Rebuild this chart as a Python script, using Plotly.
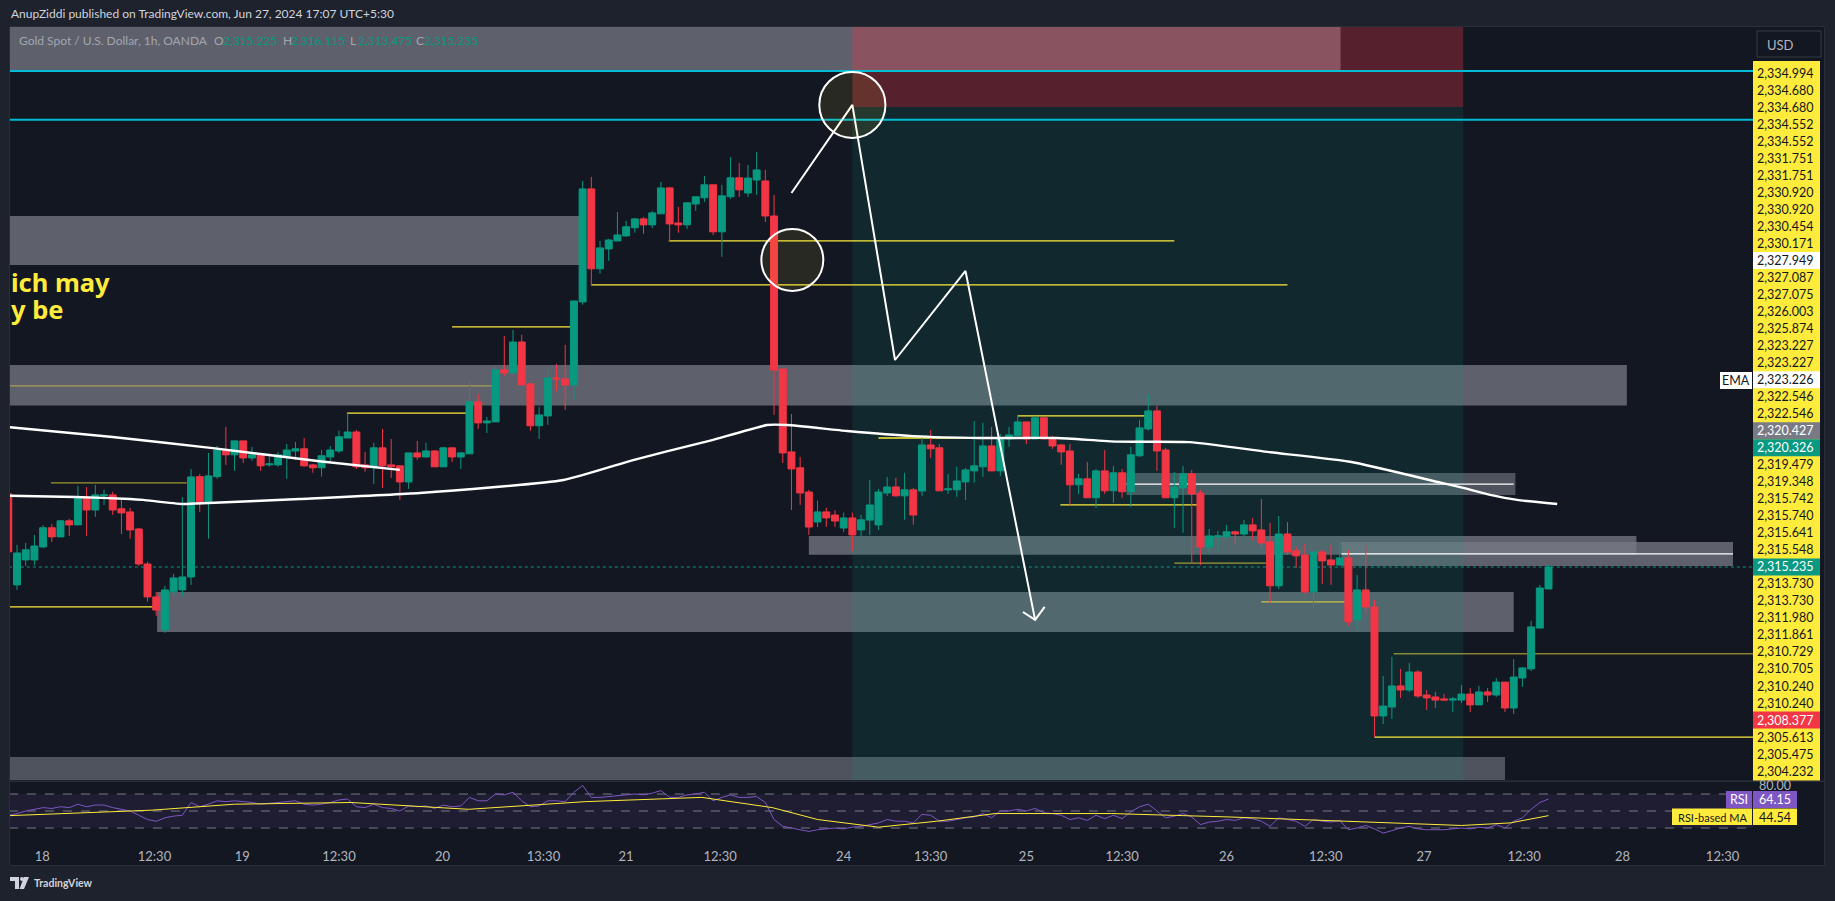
import plotly.graph_objects as go

W, H = 1835, 901
BG = '#1e222d'
PANE = '#131722'
UP = '#089981'
DOWN = '#f23645'
YELLOW = '#ffeb3b'
FONT = 'Lato'

OPEN = [
    2318.28, 2314.49, 2315.53, 2315.53, 2316.07, 2316.87, 2316.49, 2317.16, 2316.99, 2318.14,
    2317.61, 2318.20, 2318.24, 2317.66, 2317.53, 2316.82, 2315.36, 2313.99, 2312.61, 2314.20,
    2314.28, 2314.82, 2319.00, 2317.95, 2319.00, 2320.11, 2319.91, 2320.49, 2319.78, 2319.91,
    2319.49, 2319.49, 2319.87, 2320.07, 2320.16, 2319.49, 2319.37, 2319.82, 2320.07, 2320.61,
    2320.86, 2319.49, 2319.37, 2320.20, 2319.49, 2319.45, 2318.78, 2319.99, 2319.82, 2320.07,
    2319.41, 2320.20, 2319.82, 2319.95, 2322.12, 2321.24, 2321.28, 2323.45, 2323.32, 2324.61,
    2322.87, 2321.12, 2321.53, 2323.11, 2323.07, 2322.82, 2326.28, 2330.99, 2327.66, 2328.49,
    2328.82, 2329.03, 2329.37, 2329.74, 2329.49, 2329.95, 2331.03, 2329.57, 2329.49, 2330.36,
    2330.62, 2331.16, 2329.20, 2330.66, 2331.45, 2330.82, 2331.36, 2331.32, 2329.86, 2323.49,
    2320.03, 2319.37, 2318.36, 2317.11, 2317.53, 2317.40, 2316.86, 2317.28, 2316.78, 2317.19,
    2316.99, 2318.32, 2318.57, 2318.20, 2318.45, 2318.40, 2320.32, 2320.20, 2318.45, 2318.45,
    2318.78, 2319.24, 2319.41, 2320.28, 2319.24, 2320.57, 2320.70, 2321.28, 2320.57, 2321.45,
    2320.61, 2320.32, 2320.07, 2318.66, 2318.91, 2318.12, 2319.24, 2318.41, 2319.16, 2318.37,
    2319.87, 2320.99, 2321.74, 2320.11, 2318.12, 2318.53, 2319.12, 2318.32, 2316.07, 2316.49,
    2316.49, 2316.70, 2316.61, 2316.99, 2316.78, 2316.28, 2314.45, 2316.61, 2315.91, 2315.74,
    2314.20, 2315.86, 2315.53, 2315.32, 2315.61, 2313.03, 2314.28, 2313.57, 2309.03, 2309.40,
    2310.28, 2310.11, 2310.86, 2309.90, 2309.82, 2309.74, 2309.69, 2309.69, 2309.94, 2309.49,
    2310.03, 2309.90, 2310.44, 2309.36, 2310.61, 2310.99, 2312.69, 2314.32,
]
HIGH = [
    2318.35, 2316.16, 2316.24, 2316.57, 2316.98, 2317.03, 2317.20, 2317.24, 2318.62, 2318.57,
    2318.66, 2318.45, 2318.37, 2318.03, 2317.70, 2316.86, 2315.45, 2314.20, 2314.45, 2314.95,
    2318.15, 2319.32, 2319.11, 2319.99, 2320.28, 2321.07, 2320.53, 2320.49, 2320.24, 2319.91,
    2319.91, 2320.03, 2320.36, 2320.45, 2320.61, 2319.53, 2320.11, 2320.28, 2320.91, 2321.66,
    2320.95, 2320.03, 2320.41, 2320.99, 2320.57, 2319.45, 2319.99, 2320.49, 2320.41, 2320.11,
    2320.24, 2320.20, 2320.03, 2322.99, 2322.45, 2321.49, 2323.61, 2324.86, 2325.11, 2324.91,
    2322.87, 2321.91, 2323.49, 2323.70, 2324.49, 2326.32, 2331.32, 2331.49, 2328.82, 2328.91,
    2330.03, 2329.66, 2329.78, 2329.82, 2330.07, 2331.28, 2331.07, 2330.24, 2330.41, 2330.66,
    2331.53, 2331.16, 2331.16, 2332.32, 2332.07, 2331.99, 2332.53, 2331.78, 2330.74, 2323.49,
    2321.61, 2319.82, 2318.45, 2318.00, 2317.70, 2317.60, 2317.50, 2317.50, 2317.40, 2318.86,
    2318.49, 2318.99, 2318.95, 2319.16, 2318.53, 2320.61, 2320.95, 2320.36, 2319.11, 2319.41,
    2319.36, 2321.32, 2321.24, 2321.07, 2320.78, 2321.07, 2321.57, 2321.28, 2321.53, 2321.49,
    2320.70, 2320.36, 2320.36, 2319.11, 2319.61, 2319.32, 2320.11, 2319.45, 2319.32, 2320.24,
    2321.36, 2322.41, 2321.95, 2320.20, 2319.20, 2319.45, 2319.28, 2318.45, 2316.82, 2316.74,
    2316.99, 2316.74, 2317.20, 2317.28, 2318.07, 2317.07, 2317.36, 2317.11, 2316.07, 2316.20,
    2315.95, 2315.95, 2316.16, 2316.28, 2315.95, 2314.90, 2316.15, 2313.86, 2310.69, 2311.49,
    2310.99, 2311.24, 2310.94, 2310.11, 2310.03, 2309.94, 2309.82, 2310.32, 2310.19, 2310.28,
    2310.19, 2310.61, 2310.44, 2311.40, 2311.07, 2312.99, 2314.49, 2315.32,
]
LOW = [
    2315.53, 2314.28, 2315.28, 2315.30, 2316.02, 2316.28, 2316.49, 2316.53, 2316.99, 2316.53,
    2317.32, 2317.82, 2317.41, 2316.61, 2316.41, 2315.28, 2313.80, 2313.20, 2312.49, 2314.00,
    2314.00, 2314.49, 2317.53, 2316.41, 2318.91, 2319.49, 2319.24, 2319.57, 2319.66, 2319.24,
    2319.41, 2319.41, 2318.91, 2319.70, 2319.41, 2319.16, 2319.00, 2319.57, 2319.99, 2320.61,
    2319.32, 2319.20, 2318.70, 2318.53, 2318.95, 2318.03, 2318.49, 2319.70, 2319.78, 2319.41,
    2319.41, 2319.61, 2319.32, 2319.95, 2320.99, 2320.82, 2321.28, 2323.20, 2323.32, 2322.82,
    2320.91, 2320.57, 2321.16, 2322.57, 2321.78, 2322.20, 2326.16, 2326.95, 2327.45, 2327.99,
    2328.82, 2328.99, 2329.16, 2329.12, 2329.36, 2329.95, 2328.78, 2329.16, 2329.32, 2330.07,
    2330.45, 2329.07, 2328.16, 2330.57, 2330.66, 2330.65, 2330.74, 2329.61, 2321.57, 2319.57,
    2317.61, 2317.82, 2316.57, 2316.90, 2316.90, 2316.90, 2316.70, 2315.90, 2316.50, 2316.57,
    2316.78, 2318.20, 2318.16, 2317.20, 2317.00, 2318.20, 2319.78, 2318.41, 2318.28, 2318.16,
    2318.03, 2318.74, 2318.99, 2319.24, 2319.03, 2320.24, 2320.70, 2320.36, 2320.57, 2320.57,
    2320.16, 2319.49, 2317.82, 2318.28, 2318.12, 2317.70, 2318.28, 2317.91, 2318.12, 2317.74,
    2319.82, 2320.91, 2319.24, 2318.12, 2316.86, 2316.66, 2315.36, 2315.32, 2315.78, 2315.82,
    2316.49, 2316.16, 2316.49, 2316.36, 2316.07, 2313.74, 2314.32, 2315.74, 2315.20, 2314.12,
    2313.49, 2314.53, 2314.49, 2315.28, 2312.78, 2312.61, 2313.30, 2308.15, 2308.69, 2308.90,
    2309.78, 2310.03, 2309.78, 2309.28, 2309.36, 2309.65, 2309.19, 2309.57, 2309.19, 2309.49,
    2309.61, 2309.82, 2309.19, 2309.11, 2310.24, 2310.90, 2312.69, 2314.32,
]
CLOSE = [
    2315.87, 2315.82, 2315.95, 2316.11, 2316.87, 2316.49, 2317.16, 2316.99, 2318.14, 2317.61,
    2318.24, 2318.24, 2317.61, 2317.49, 2316.78, 2315.36, 2313.99, 2313.44, 2314.28, 2314.78,
    2314.82, 2318.99, 2317.95, 2319.03, 2320.11, 2319.91, 2320.49, 2319.78, 2319.91, 2319.45,
    2319.53, 2319.91, 2320.11, 2320.16, 2319.45, 2319.37, 2319.87, 2320.11, 2320.66, 2320.86,
    2319.41, 2319.37, 2320.20, 2319.45, 2319.41, 2318.78, 2319.99, 2319.82, 2320.07, 2319.41,
    2320.20, 2319.82, 2319.99, 2322.12, 2321.24, 2321.32, 2323.45, 2323.32, 2324.61, 2322.82,
    2321.12, 2321.57, 2323.11, 2323.07, 2322.82, 2326.32, 2330.99, 2327.66, 2328.53, 2328.86,
    2329.07, 2329.41, 2329.74, 2329.49, 2329.99, 2331.03, 2329.53, 2329.49, 2330.41, 2330.66,
    2331.16, 2329.20, 2330.70, 2331.45, 2330.95, 2331.44, 2331.78, 2329.86, 2323.44, 2319.99,
    2319.32, 2318.32, 2316.90, 2317.53, 2317.28, 2317.15, 2317.28, 2316.57, 2317.20, 2317.82,
    2318.36, 2318.57, 2318.20, 2318.45, 2317.40, 2320.32, 2320.16, 2318.41, 2318.49, 2318.82,
    2319.28, 2319.45, 2320.28, 2319.24, 2320.61, 2320.74, 2321.28, 2320.57, 2321.45, 2320.57,
    2320.28, 2320.03, 2318.66, 2318.91, 2318.12, 2319.24, 2318.41, 2319.16, 2318.37, 2319.91,
    2321.03, 2321.74, 2320.07, 2318.12, 2318.57, 2319.12, 2318.28, 2316.07, 2316.53, 2316.53,
    2316.70, 2316.61, 2316.99, 2316.74, 2316.24, 2314.45, 2316.61, 2315.86, 2315.70, 2314.20,
    2315.86, 2315.49, 2315.32, 2315.61, 2312.95, 2314.28, 2313.57, 2309.03, 2309.44, 2310.28,
    2310.11, 2310.86, 2309.86, 2309.78, 2309.69, 2309.69, 2309.74, 2309.94, 2309.49, 2310.03,
    2309.90, 2310.44, 2309.36, 2310.65, 2311.03, 2312.74, 2314.36, 2315.235,
]
BARS = list(range(len(OPEN)))

RSI = [
    45, 47, 50, 52, 54, 53, 55, 54, 58, 55,
    57, 57, 54, 52, 50, 45, 40, 38, 42, 44,
    45, 60, 55, 58, 62, 61, 62, 61, 60, 58,
    59, 60, 61, 62, 58, 57, 58, 60, 63, 64,
    55, 54, 58, 54, 53, 50, 56, 55, 56, 53,
    57, 55, 56, 66, 62, 62, 70, 69, 72, 62,
    55, 56, 62, 62, 61, 72, 80, 66, 66, 67,
    68, 69, 70, 69, 71, 74, 66, 66, 69, 70,
    72, 62, 66, 69, 66, 66, 67, 60, 40, 32,
    30, 28, 26, 28, 29, 30, 29, 31, 32, 34,
    36, 40, 38, 38, 36, 46, 45, 38, 38, 40,
    42, 43, 47, 42, 50, 50, 52, 50, 53, 48,
    47, 45, 40, 42, 39, 45, 41, 45, 41, 49,
    55, 58, 50, 42, 44, 47, 43, 34, 37, 38,
    40, 39, 42, 41, 38, 32, 42, 40, 38, 32,
    40, 38, 37, 39, 28, 30, 33, 29, 24, 27,
    30, 32, 29, 28, 28, 28, 29, 30, 29, 31,
    30, 34, 30, 38, 42, 52, 60, 64.15,
]
RSI_MA_BAR = [0, 12.5, 16.5, 26, 39.4, 52.9, 66.3, 79.7, 87.8, 93, 100, 106.7, 113.4, 126.8, 140.3, 153.7, 167, 172.6, 177]
RSI_MA = [44.5, 50, 51, 58, 60, 52, 61, 66, 54, 40, 31, 38, 47, 47, 43, 38, 33, 36, 44.54]

EMA_UPPER_BAR = [-1, 12, 23.5, 36, 45]
EMA_UPPER = [2321.10, 2320.65, 2320.19, 2319.63, 2319.28]
EMA_LOWER_BAR = [-1, 7.7, 14, 15.5, 20, 23, 33.5, 47.3, 63.8, 71.8, 79.5, 81, 87.2, 89.5, 96.4, 104,
                 111.7, 120.5, 127.4, 135.8, 144.7, 154.2, 164.6, 167.2, 170.3, 173.4, 178]
EMA_LOWER = [2318.21, 2318.15, 2318.07, 2318.03, 2317.86, 2317.90, 2318.07, 2318.32, 2318.86, 2319.69,
             2320.40, 2320.53, 2321.15, 2321.15, 2320.90, 2320.69, 2320.61, 2320.61, 2320.46, 2320.44,
             2320.03, 2319.62, 2318.75, 2318.53, 2318.24, 2318.03, 2317.86]

# grey supply and demand zones
ZONE_START = [-2, -2, -2, 92, 153.2, 17.1, 128.5, -2]
ZONE_END = [153.1, 65.7, 186, 187.1, 198.2, 173, 173.2, 172]
ZONE_TOP = [2337.74, 2329.86, 2323.65, 2316.53, 2316.28, 2314.19, 2319.15, 2307.32]
ZONE_BOTTOM = [2335.94, 2327.82, 2321.96, 2315.75, 2315.28, 2312.53, 2318.24, 2306.36]
ZONE_ALPHA = [0.75, 0.75, 0.75, 0.75, 0.75, 0.75, 0.6, 0.6]

# short position tool
POS_START, POS_END = 97, 167.2
POS_TOP, POS_ENTRY, POS_BOTTOM = 2337.74, 2334.40, 2306.36

CYAN_LEVELS = [2335.90, 2333.87]
WHITE_START = [153.2, 128.5]
WHITE_END = [198.2, 173]
WHITE_LEVELS = [2315.78, 2318.69]

LEVEL_START = [-2, 4.9, 38.9, -2, 51, 75.9, 67, 100, 116, 120.9, 134, 144, 159.2, 157]
LEVEL_END = [17.2, 20.5, 52.6, 55.6, 64.7, 134, 147, 113.2, 130.7, 136.7, 144.7, 153.9, 201, 201]
LEVEL_PRICE = [2313.57, 2318.74, 2321.65, 2322.78, 2325.24, 2328.82, 2326.99, 2320.61, 2321.53, 2317.82,
               2315.40, 2313.78, 2311.62, 2308.15]
LEVEL_ALPHA = [1, 0.6, 1, 0.45, 1, 1, 1, 1, 1, 1, 0.6, 0.7, 0.5, 1]

PATH_BAR = [90, 97, 101.9, 110, 118]
PATH_PRICE = [2330.82, 2334.49, 2323.86, 2327.57, 2313.03]
HEAD_BAR = [116.6, 118, 119.1]
HEAD_PRICE = [2313.36, 2313.03, 2313.57]

CIRCLE_BAR = [97, 90.1]
CIRCLE_PRICE = [2334.49, 2328.03]
CIRCLE_BAR_R = [3.8, 3.56]
CIRCLE_PRICE_R = [1.375, 1.29]

LAST_PRICE = 2315.235

PRICE_LABELS = [
    '2,334.994', '2,334.680', '2,334.680', '2,334.552', '2,334.552', '2,331.751', '2,331.751',
    '2,330.920', '2,330.920', '2,330.454', '2,330.171', '2,327.949', '2,327.087', '2,327.075',
    '2,326.003', '2,325.874', '2,323.227', '2,323.227', '2,323.226', '2,322.546', '2,322.546',
    '2,320.427', '2,320.326', '2,319.479', '2,319.348', '2,315.742', '2,315.740', '2,315.641',
    '2,315.548', '2,315.235', '2,313.730', '2,313.730', '2,311.980', '2,311.861', '2,310.729',
    '2,310.705', '2,310.240', '2,310.240', '2,308.377', '2,305.613', '2,305.475', '2,304.232',
]
# rows that are not the yellow alert labels: row -> (background, text)
ROW_STYLE = {11: ('#ffffff', '#131722'), 18: ('#ffffff', '#131722'), 21: ('#787b86', '#ffffff'),
             22: (UP, '#ffffff'), 29: (UP, '#ffffff'), 38: (DOWN, '#ffffff')}

TICK_BARS = [3.9, 16.8, 26.9, 38, 49.9, 61.5, 71, 81.8, 96, 106, 117, 128, 140, 151.4, 162.7, 174.2, 185.5, 197]
TICK_TEXT = ['18', '12:30', '19', '12:30', '20', '13:30', '21', '12:30', '24', '13:30', '25', '12:30',
             '26', '12:30', '27', '12:30', '28', '12:30']


def px(x):
    return x / W


def py(y):
    return 1 - y / H


def note(text, x, y, color, size=12, anchor='left', family=FONT, **kw):
    return dict(text=text, x=px(x), y=py(y), xref='paper', yref='paper', xanchor=anchor, yanchor='middle',
                showarrow=False, font=dict(family=family, size=size, color=color), borderpad=0, **kw)


def box(x0, y0, x1, y1, color, layer='below', **kw):
    return dict(type='rect', xref='paper', yref='paper', x0=px(x0), x1=px(x1), y0=py(y0), y1=py(y1),
                fillcolor=color, line=dict(width=0), layer=layer, **kw)


def span(x0, x1, y0, y1, color, layer='below'):
    return dict(type='rect', xref='x', yref='y', x0=x0, x1=x1, y0=y0, y1=y1, fillcolor=color,
                line=dict(width=0), layer=layer)


def level(x0, x1, y, color, width=1, dash='solid', yref='y'):
    return dict(type='line', xref='x', yref=yref, x0=x0, x1=x1, y0=y, y1=y, layer='below',
                line=dict(color=color, width=width, dash=dash))


fig = go.Figure()

smooth = dict(color='#ffffff', width=2.4, shape='spline', smoothing=0.5)
fig.add_scatter(x=EMA_UPPER_BAR, y=EMA_UPPER, mode='lines', line=smooth, yaxis='y')
fig.add_scatter(x=EMA_LOWER_BAR, y=EMA_LOWER, mode='lines', line=smooth, yaxis='y')
fig.add_candlestick(x=BARS, open=OPEN, high=HIGH, low=LOW, close=CLOSE, whiskerwidth=0, yaxis='y',
                    increasing=dict(line=dict(color=UP, width=1), fillcolor=UP),
                    decreasing=dict(line=dict(color=DOWN, width=1), fillcolor=DOWN))
fig.add_scatter(x=PATH_BAR, y=PATH_PRICE, mode='lines', line=dict(color='#ffffff', width=2), yaxis='y')
fig.add_scatter(x=HEAD_BAR, y=HEAD_PRICE, mode='lines', line=dict(color='#ffffff', width=2), yaxis='y')
fig.add_scatter(x=BARS, y=RSI, mode='lines', line=dict(color='#7e57c2', width=1), yaxis='y2')
fig.add_scatter(x=RSI_MA_BAR, y=RSI_MA, mode='lines', line=dict(color=YELLOW, width=1), yaxis='y2')

shapes = [box(10, 27, 1824, 865, PANE)]
for i in range(len(ZONE_TOP)):
    shapes.append(span(ZONE_START[i], ZONE_END[i], ZONE_BOTTOM[i], ZONE_TOP[i],
                       'rgba(120,123,134,%s)' % ZONE_ALPHA[i]))
shapes.append(span(POS_START, POS_END, POS_ENTRY, POS_TOP, 'rgba(242,54,69,0.3)'))
shapes.append(span(POS_START, POS_END, POS_BOTTOM, POS_ENTRY, 'rgba(8,153,129,0.13)'))
for i in range(len(LEVEL_PRICE)):
    shapes.append(level(LEVEL_START[i], LEVEL_END[i], LEVEL_PRICE[i],
                        'rgba(255,235,59,%s)' % LEVEL_ALPHA[i], width=1.3))
for i in range(len(WHITE_LEVELS)):
    shapes.append(level(WHITE_START[i], WHITE_END[i], WHITE_LEVELS[i], '#ffffff', width=1.3))
for price in CYAN_LEVELS:
    shapes.append(level(-2, 201, price, '#00bcd4', width=2))
shapes.append(level(-2, 201, LAST_PRICE, UP, dash='dot'))
for i in range(len(CIRCLE_BAR)):
    shapes.append(dict(type='circle', xref='x', yref='y', layer='above',
                       x0=CIRCLE_BAR[i] - CIRCLE_BAR_R[i], x1=CIRCLE_BAR[i] + CIRCLE_BAR_R[i],
                       y0=CIRCLE_PRICE[i] - CIRCLE_PRICE_R[i], y1=CIRCLE_PRICE[i] + CIRCLE_PRICE_R[i],
                       fillcolor='rgba(255,235,59,0.09)', line=dict(color='#ffffff', width=2)))

# rsi band
shapes.append(dict(type='rect', xref='x', yref='y2', x0=-2, x1=201, y0=30, y1=70,
                   fillcolor='rgba(126,87,194,0.1)', line=dict(width=0), layer='below'))
for value in [70, 50, 30]:
    shapes.append(level(-2, 201, value, '#787b86', dash='dash', yref='y2'))

# pane separators
shapes.append(box(10, 780.5, 1824, 782, '#2a2e39'))
shapes.append(box(9, 27, 10, 865, '#2a2e39'))
shapes.append(box(10, 26, 1824, 27, '#2a2e39'))
shapes.append(box(1824, 27, 1825, 866, '#2a2e39'))
shapes.append(box(10, 865, 1825, 866, '#2a2e39'))

# price label column
shapes.append(box(1753, 61, 1820, 780.5, YELLOW, layer='above'))
annotations = []
for i, label in enumerate(PRICE_LABELS):
    yc = 73.3 + 17.02 * i
    back, ink = ROW_STYLE.get(i, (None, '#131722'))
    if back:
        shapes.append(box(1753, yc - 8.5, 1820, yc + 8.5, back, layer='above'))
    annotations.append(note(label, 1815, yc, ink, size=12.5, anchor='right', align='right'))

shapes.append(dict(type='rect', xref='paper', yref='paper', x0=px(1757), x1=px(1821), y0=py(31), y1=py(57),
                   fillcolor=PANE, line=dict(color='#363a45', width=1)))
annotations.append(note('USD', 1766, 44.5, '#b2b5be', size=13))
shapes.append(box(1720, 372, 1752, 389, '#ffffff', layer='above'))
annotations.append(note('EMA', 1736, 380.5, '#131722', anchor='center', size=12.5))

# rsi labels
shapes.append(box(1726, 791, 1752, 808, '#7e57c2', layer='above'))
shapes.append(box(1753, 791, 1797, 808, '#7e57c2', layer='above'))
shapes.append(box(1672, 808.5, 1752, 825, YELLOW, layer='above'))
shapes.append(box(1753, 808.5, 1797, 825, YELLOW, layer='above'))
annotations += [
    note('80.00', 1775, 785.5, '#b2b5be', anchor='center', size=12.5),
    note('RSI', 1739, 799.5, '#ffffff', anchor='center', size=12.5),
    note('64.15', 1775, 799.5, '#ffffff', anchor='center', size=12.5),
    note('RSI-based MA', 1712, 817, '#131722', anchor='center', size=11),
    note('44.54', 1775, 817, '#131722', anchor='center', size=12.5),
]

# header and legend
annotations += [
    note('AnupZiddi published on TradingView.com, Jun 27, 2024 17:07 UTC+5:30', 10, 14, '#d1d4dc', size=12),
    note('Gold Spot / U.S. Dollar, 1h, OANDA', 18, 41, '#a3a6af', size=12),
    note('O', 213, 41, '#a3a6af', size=12), note('2,315.225', 222, 41, UP, size=12),
    note('H', 282, 41, '#a3a6af', size=12), note('2,316.115', 290, 41, UP, size=12),
    note('L', 349, 41, '#a3a6af', size=12), note('2,313.475', 357, 41, UP, size=12),
    note('C', 415, 41, '#a3a6af', size=12), note('2,315.235', 423, 41, UP, size=12),
    note('<b>ich may</b>', 10, 282, YELLOW, size=25.5, family='Noto Sans'),
    note('<b>y be</b>', 10, 309, YELLOW, size=25.5, family='Noto Sans'),
    note('<b>TradingView</b>', 33, 883, '#d1d4dc', size=10.5),
]

# logo
shapes += [
    box(10, 877, 19, 881, '#d1d4dc', layer='above'),
    box(15, 881, 19, 889, '#d1d4dc', layer='above'),
    dict(type='circle', xref='paper', yref='paper', x0=px(20), x1=px(24), y0=py(881), y1=py(877),
         fillcolor='#d1d4dc', line=dict(width=0)),
    dict(type='path', xref='paper', yref='paper', fillcolor='#d1d4dc', line=dict(width=0),
         path='M %f %f L %f %f L %f %f L %f %f Z' % (px(24), py(877), px(29), py(877), px(24), py(889), px(19.5), py(889))),
]

fig.update_layout(
    width=W, height=H, margin=dict(l=0, r=0, t=0, b=0), autosize=False,
    paper_bgcolor=BG, plot_bgcolor='rgba(0,0,0,0)', showlegend=False, hovermode=False,
    boxgap=0.2, boxgroupgap=0,
    xaxis=dict(domain=[px(10), px(1753)], range=[0.195, 200.5], anchor='y2', showgrid=False, zeroline=False,
               rangeslider=dict(visible=False), showline=False, tickmode='array', tickvals=TICK_BARS,
               ticktext=TICK_TEXT, ticks='outside', ticklen=9, tickcolor=PANE,
               tickfont=dict(family=FONT, size=13, color='#b2b5be')),
    yaxis=dict(domain=[py(780), py(27)], range=[2306.36, 2337.735], anchor='x', visible=False, fixedrange=True),
    yaxis2=dict(domain=[py(835), py(782)], range=[21.8, 84.1], anchor='x', visible=False, fixedrange=True),
    shapes=shapes, annotations=annotations,
)

fig.write_html("out.html", config=dict(displayModeBar=False),
               post_script="document.body.style.margin='0';document.body.style.overflow='hidden';")
